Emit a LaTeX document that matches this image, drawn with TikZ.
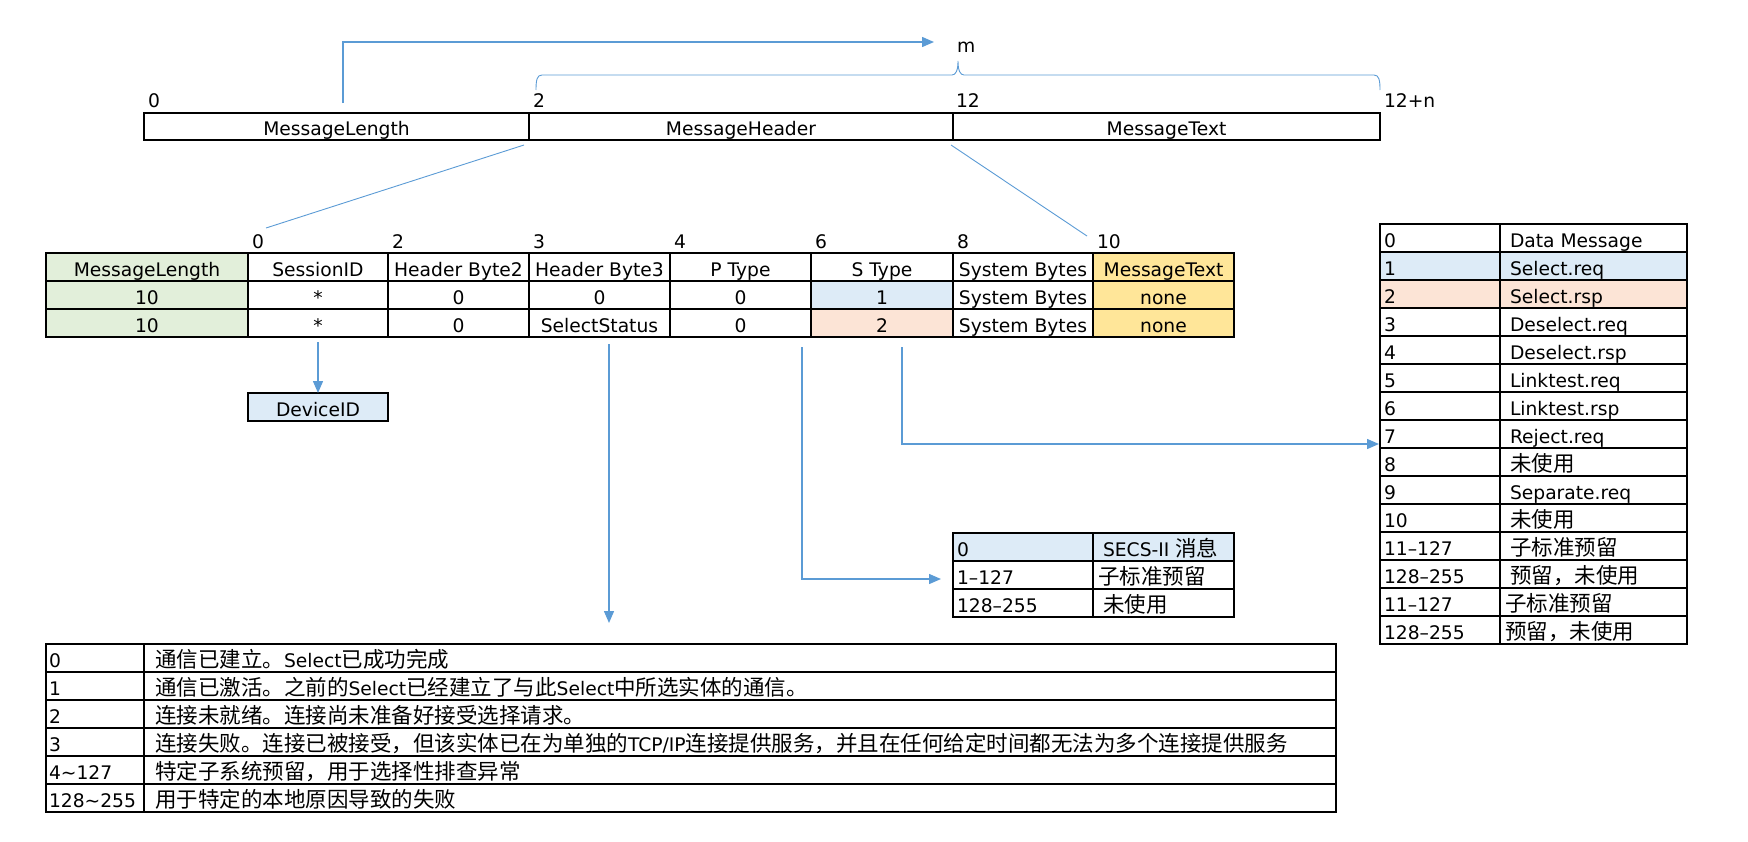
\documentclass[tikz,border=0pt]{standalone}
\usepackage{fontspec}
\setmainfont{DejaVu Sans}
\newfontfamily\cjkfont{Noto Sans CJK SC}
\usetikzlibrary{arrows.meta,calc,backgrounds}
\definecolor{cgreen}{HTML}{E2EFDA}
\definecolor{cblue}{HTML}{DDEBF7}
\definecolor{cpeach}{HTML}{FCE4D6}
\definecolor{cyellow}{HTML}{FFE699}
\definecolor{lblue}{HTML}{5B9BD5}
\newcommand\zh[1]{{\fontsize{21.5}{26}\selectfont\cjkfont #1}}
\newcommand\cc[6]{%
  \begin{pgfonlayer}{background}\fill[#5] (#2,#3) rectangle ++(#4,28);\end{pgfonlayer}
  \node[cellsty, minimum width=#4pt] (#1) at (#2,#3) {};
  \node[tx, anchor=base] at ($(#1.north)+(0,23)$) {#6};}
\newcommand\cl[7]{%
  \begin{pgfonlayer}{background}\fill[#5] (#2,#3) rectangle ++(#4,28);\end{pgfonlayer}
  \node[cellsty, minimum width=#4pt] (#1) at (#2,#3) {};
  \node[tx, anchor=base west] at ($(#1.north west)+(#6,23)$) {#7};}
\begin{document}
\begin{tikzpicture}[x=1pt,y=-1pt,
  font=\fontsize{18.7}{22}\selectfont,
  cellsty/.style={draw=black, line width=1.1pt, anchor=north west, minimum height=28pt, inner sep=0pt, outer sep=0pt},
  barsty/.style={draw=black, line width=1.1pt, anchor=north west, minimum height=27pt, inner sep=0pt, outer sep=0pt},
  tx/.style={inner sep=0pt, outer sep=0pt},
  conn/.style={draw=lblue, line width=1.4pt},
  thinconn/.style={draw=lblue, line width=0.9pt},
  arr/.style={conn, -{Triangle[length=12pt,width=10pt]}}]
\useasboundingbox (0,0) rectangle (1748,841);

% ---------- top bar ----------
\node[barsty, minimum width=385pt] (ml) at (144,113) {};
\node[barsty, minimum width=424pt] (mh) at (529,113) {};
\node[barsty, minimum width=427pt] (mt) at (953,113) {};
\node[tx, anchor=base] at ($(ml.north)+(0,22)$) {MessageLength};
\node[tx, anchor=base] at ($(mh.north)+(0,22)$) {MessageHeader};
\node[tx, anchor=base] at ($(mt.north)+(0,22)$) {MessageText};
\node[tx, anchor=base west] (t0) at (148,107) {0};
\node[tx, anchor=base west] (t2) at (533,107) {2};
\node[tx, anchor=base west] (t12) at (956,107) {12};
\node[tx, anchor=base west] (t12n) at (1384,107) {12+n};
\node[tx, anchor=base west] (mlab) at (957,52) {m};

% brace
\draw[thinconn] (536,90) .. controls (536,80) and (537,75) .. (542,75) -- (952,75)
  .. controls (956,75) and (958,70) .. (958,61) .. controls (958,70) and (960,75) .. (964,75)
  -- (1374,75) .. controls (1379,75) and (1380,80) .. (1380,90);

% ---------- header table ----------
\node[tx, anchor=base west] (h0) at (252,248) {0};
\node[tx, anchor=base west] (h2) at (392,248) {2};
\node[tx, anchor=base west] (h3) at (533,248) {3};
\node[tx, anchor=base west] (h4) at (674,248) {4};
\node[tx, anchor=base west] (h6) at (815,248) {6};
\node[tx, anchor=base west] (h8) at (957,248) {8};
\node[tx, anchor=base west] (h10) at (1097,248) {10};

\cc{a1}{46}{253}{202}{cgreen}{MessageLength}
\cc{b1}{248}{253}{140}{white}{SessionID}
\cc{c1}{388}{253}{141}{white}{Header Byte2}
\cc{d1}{529}{253}{141}{white}{Header Byte3}
\cc{e1}{670}{253}{141}{white}{P Type}
\cc{f1}{811}{253}{142}{white}{S Type}
\cc{g1}{953}{253}{140}{white}{System Bytes}
\cc{k1}{1093}{253}{141}{cyellow}{MessageText}

\cc{a2}{46}{281}{202}{cgreen}{10}
\cc{b2}{248}{281}{140}{white}{*}
\cc{c2}{388}{281}{141}{white}{0}
\cc{d2}{529}{281}{141}{white}{0}
\cc{e2}{670}{281}{141}{white}{0}
\cc{f2}{811}{281}{142}{cblue}{1}
\cc{g2}{953}{281}{140}{white}{System Bytes}
\cc{k2}{1093}{281}{141}{cyellow}{none}

\cc{a3}{46}{309}{202}{cgreen}{10}
\cc{b3}{248}{309}{140}{white}{*}
\cc{c3}{388}{309}{141}{white}{0}
\cc{d3}{529}{309}{141}{white}{SelectStatus}
\cc{e3}{670}{309}{141}{white}{0}
\cc{f3}{811}{309}{142}{cpeach}{2}
\cc{g3}{953}{309}{140}{white}{System Bytes}
\cc{k3}{1093}{309}{141}{cyellow}{none}

% DeviceID
\cc{dev}{248}{393}{140}{cblue}{DeviceID}

% ---------- S Type table ----------
\cl{r0a}{1380}{224}{120}{white}{4}{0}        \cl{r0b}{1500}{224}{187}{white}{10}{Data Message}
\cl{r1a}{1380}{252}{120}{cblue}{4}{1}        \cl{r1b}{1500}{252}{187}{cblue}{10}{Select.req}
\cl{r2a}{1380}{280}{120}{cpeach}{4}{2}       \cl{r2b}{1500}{280}{187}{cpeach}{10}{Select.rsp}
\cl{r3a}{1380}{308}{120}{white}{4}{3}        \cl{r3b}{1500}{308}{187}{white}{10}{Deselect.req}
\cl{r4a}{1380}{336}{120}{white}{4}{4}        \cl{r4b}{1500}{336}{187}{white}{10}{Deselect.rsp}
\cl{r5a}{1380}{364}{120}{white}{4}{5}        \cl{r5b}{1500}{364}{187}{white}{10}{Linktest.req}
\cl{r6a}{1380}{392}{120}{white}{4}{6}        \cl{r6b}{1500}{392}{187}{white}{10}{Linktest.rsp}
\cl{r7a}{1380}{420}{120}{white}{4}{7}        \cl{r7b}{1500}{420}{187}{white}{10}{Reject.req}
\cl{r8a}{1380}{448}{120}{white}{4}{8}        \cl{r8b}{1500}{448}{187}{white}{10}{\zh{未使用}}
\cl{r9a}{1380}{476}{120}{white}{4}{9}        \cl{r9b}{1500}{476}{187}{white}{10}{Separate.req}
\cl{r10a}{1380}{504}{120}{white}{4}{10}      \cl{r10b}{1500}{504}{187}{white}{10}{\zh{未使用}}
\cl{r11a}{1380}{532}{120}{white}{4}{11–127}  \cl{r11b}{1500}{532}{187}{white}{10}{\zh{子标准预留}}
\cl{r12a}{1380}{560}{120}{white}{4}{128–255} \cl{r12b}{1500}{560}{187}{white}{10}{\zh{预留，未使用}}
\cl{r13a}{1380}{588}{120}{white}{4}{11–127}  \cl{r13b}{1500}{588}{187}{white}{5}{\zh{子标准预留}}
\cl{r14a}{1380}{616}{120}{white}{4}{128–255} \cl{r14b}{1500}{616}{187}{white}{5}{\zh{预留，未使用}}

% ---------- P Type table ----------
\cl{p0a}{953}{533}{140}{cblue}{4}{0}        \cl{p0b}{1093}{533}{141}{cblue}{10}{SECS-II \zh{消息}}
\cl{p1a}{953}{561}{140}{white}{4}{1–127}    \cl{p1b}{1093}{561}{141}{white}{5}{\zh{子标准预留}}
\cl{p2a}{953}{589}{140}{white}{4}{128–255}  \cl{p2b}{1093}{589}{141}{white}{10}{\zh{未使用}}

% ---------- SelectStatus table ----------
\cl{s0a}{46}{644}{98}{white}{3}{0}        \cl{s0b}{144}{644}{1192}{white}{11}{\zh{通信已建立。}Select\zh{已成功完成}}
\cl{s1a}{46}{672}{98}{white}{3}{1}        \cl{s1b}{144}{672}{1192}{white}{11}{\zh{通信已激活。之前的}Select\zh{已经建立了与此}Select\zh{中所选实体的通信。}}
\cl{s2a}{46}{700}{98}{white}{3}{2}        \cl{s2b}{144}{700}{1192}{white}{11}{\zh{连接未就绪。连接尚未准备好接受选择请求。}}
\cl{s3a}{46}{728}{98}{white}{3}{3}        \cl{s3b}{144}{728}{1192}{white}{11}{\zh{连接失败。连接已被接受，但该实体已在为单独的}TCP/IP\zh{连接提供服务，并且在任何给定时间都无法为多个连接提供服务}}
\cl{s4a}{46}{756}{98}{white}{3}{4\textasciitilde127}   \cl{s4b}{144}{756}{1192}{white}{11}{\zh{特定子系统预留，用于选择性排查异常}}
\cl{s5a}{46}{784}{98}{white}{3}{128\textasciitilde255} \cl{s5b}{144}{784}{1192}{white}{11}{\zh{用于特定的本地原因导致的失败}}

% ---------- connectors ----------
\coordinate (lenTop) at (343,103);
\coordinate (mArrow) at (934,42);
\draw[arr] (lenTop) |- (mArrow);

\coordinate (hdrL) at (524,145);
\coordinate (hdrLend) at (266,228);
\draw[thinconn] (hdrL) -- (hdrLend);
\coordinate (hdrR) at (951,145);
\coordinate (hdrRend) at (1087,236);
\draw[thinconn] (hdrR) -- (hdrRend);

\draw[arr] ($(b3.south)+(0,5)$) -- (dev.north);

\coordinate (ssTop) at (609,344);
\coordinate (ssEnd) at (609,623);
\draw[arr] (ssTop) -- (ssEnd);

\coordinate (ptTop) at (802,347);
\coordinate (ptEnd) at (941,579);
\draw[arr] (ptTop) |- (ptEnd);

\coordinate (stTop) at (902,347);
\coordinate (stEnd) at (1379,444);
\draw[arr] (stTop) |- (stEnd);
\end{tikzpicture}
\end{document}
